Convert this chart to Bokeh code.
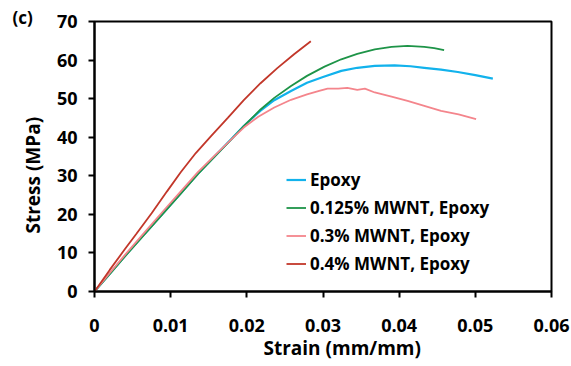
from bokeh.plotting import figure
from bokeh.models import Range1d, FixedTicker, Legend, LegendItem, Title
from bokeh.embed import file_html
from bokeh.resources import INLINE

# ---- data ----
epoxy_x = [0, 0.002, 0.004, 0.0066, 0.009, 0.0113, 0.0136, 0.0160, 0.0180, 0.0196, 0.0218,
           0.0236, 0.0258, 0.0279, 0.0300, 0.0324, 0.0345, 0.0368, 0.0394, 0.0415, 0.0433,
           0.0455, 0.0477, 0.0500, 0.0523]
epoxy_y = [0, 4.6, 9.2, 15.0, 20.3, 25.4, 30.6, 35.5, 39.6, 42.9, 46.9,
           49.6, 52.0, 54.1, 55.6, 57.2, 58.0, 58.5, 58.6, 58.4, 58.0,
           57.5, 56.9, 56.1, 55.2]

mwnt0125_x = [0, 0.002, 0.004, 0.0066, 0.009, 0.0113, 0.0136, 0.0160, 0.0180, 0.0196, 0.0218,
              0.0236, 0.0258, 0.0279, 0.0302, 0.0324, 0.0345, 0.0368, 0.0390, 0.0411,
              0.0433, 0.0446, 0.0459]
mwnt0125_y = [0, 4.5, 9.1, 14.9, 20.2, 25.3, 30.5, 35.4, 39.5, 42.9, 47.2,
              50.2, 53.3, 55.9, 58.3, 60.2, 61.6, 62.8, 63.4, 63.7,
              63.4, 63.1, 62.6]

mwnt03_x = [0, 0.002, 0.004, 0.0066, 0.009, 0.0113, 0.0136, 0.0160, 0.0180, 0.0196, 0.0215,
            0.0236, 0.0258, 0.0279, 0.0295, 0.0306, 0.0320, 0.0332, 0.0345, 0.0355, 0.0368,
            0.0390, 0.0411, 0.0433, 0.0455, 0.0478, 0.0501]
mwnt03_y = [0, 4.8, 9.5, 15.4, 20.8, 25.9, 31.0, 35.7, 39.5, 42.5, 45.3,
            47.7, 49.7, 51.1, 52.0, 52.6, 52.6, 52.8, 52.3, 52.6, 51.6,
            50.5, 49.4, 48.1, 46.8, 45.9, 44.7]

mwnt04_x = [0, 0.002, 0.004, 0.00548, 0.0075, 0.0095, 0.01132, 0.0133, 0.0153, 0.0175, 0.0196,
            0.0218, 0.0240, 0.0262, 0.0284]
mwnt04_y = [0, 5.6, 11.0, 14.9, 20.3, 25.9, 30.9, 35.9, 40.3, 45.0, 49.6,
            54.0, 57.9, 61.5, 64.9]

x_ticks = [0, 0.01, 0.02, 0.03, 0.04, 0.05, 0.06]
x_tick_labels = ["0", "0.01", "0.02", "0.03", "0.04", "0.05", "0.06"]
y_ticks = [0, 10, 20, 30, 40, 50, 60, 70]

series_names = ["Epoxy", "0.125% MWNT, Epoxy", "0.3% MWNT, Epoxy", "0.4% MWNT, Epoxy"]
series_colors = ["#12B2EC", "#1E9448", "#F4858C", "#C2372A"]

x_title = "Strain (mm/mm)"
y_title = "Stress (MPa)"
panel_tag = "(c)"

FONT = "Open Sans"

p = figure(width=571, height=366, output_backend="svg", toolbar_location=None,
           x_range=Range1d(0, 0.06), y_range=Range1d(0, 70),
           min_border_left=94, min_border_right=20, min_border_top=21, min_border_bottom=75)

p.xgrid.visible = False
p.ygrid.visible = False
p.outline_line_color = "black"
p.outline_line_width = 2
p.background_fill_color = "white"
p.border_fill_color = "white"

for ax in (p.xaxis[0], p.yaxis[0]):
    ax.axis_line_width = 2
    ax.axis_line_color = "black"
    ax.major_tick_line_width = 2
    ax.major_tick_line_color = "black"
    ax.major_tick_out = 6
    ax.major_tick_in = 0
    ax.minor_tick_line_color = None
    ax.major_label_text_font = FONT
    ax.major_label_text_font_style = "bold"
    ax.major_label_text_font_size = "18px"
    ax.major_label_text_color = "black"

p.xaxis.ticker = FixedTicker(ticks=x_ticks)
p.xaxis.major_label_overrides = {t: l for t, l in zip(x_ticks, x_tick_labels)}
p.yaxis.ticker = FixedTicker(ticks=y_ticks)
p.xaxis.major_label_standoff = 21
p.yaxis.major_label_standoff = 11

xs = [epoxy_x, mwnt0125_x, mwnt03_x, mwnt04_x]
ys = [epoxy_y, mwnt0125_y, mwnt03_y, mwnt04_y]
widths = [2.2, 1.8, 1.8, 1.8]
items = []
for x, y, name, c, w in zip(xs, ys, series_names, series_colors, widths):
    r = p.line(x, y, line_color=c, line_width=w)
    items.append(LegendItem(label=name, renderers=[r]))

legend = Legend(items=items, location=(192, 16),
                glyph_width=20, glyph_height=23, label_height=23, spacing=5,
                padding=0, margin=0, label_standoff=4,
                label_text_font=FONT, label_text_font_style="bold",
                label_text_font_size="17px", label_text_color="black",
                border_line_color=None, background_fill_alpha=0)
p.add_layout(legend)

# axis titles placed like the reference (offset from the frame centre)
p.add_layout(Title(text=x_title, align="left", offset=169, standoff=-4,
                   text_font=FONT, text_font_style="bold", text_font_size="19px",
                   text_color="black"), "below")
p.add_layout(Title(text=y_title, align="left", offset=58, standoff=15,
                   text_font=FONT, text_font_style="bold", text_font_size="19px",
                   text_color="black"), "left")
p.add_layout(Title(text=panel_tag, align="left", offset=-82, standoff=-15,
                   text_font=FONT, text_font_style="bold", text_font_size="17px",
                   text_color="black"), "above")

open("out.html", "w").write(file_html(p, INLINE))
